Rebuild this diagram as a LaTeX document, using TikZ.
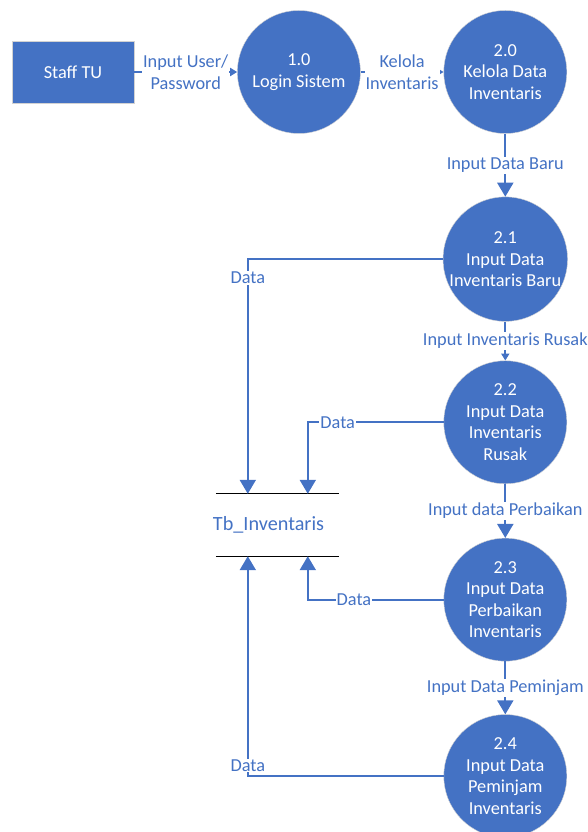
\documentclass[tikz,border=0pt]{standalone}
\usepackage{fontspec}
\setmainfont{Carlito}
\usepackage{xcolor}
\usepackage{tikz}
\usetikzlibrary{shapes.geometric, arrows.meta, positioning, calc}
\definecolor{dfdblue}{HTML}{4472C4}
\tikzstyle{entity} = [rectangle, minimum width=122pt, minimum height=62pt, text centered, draw=gray!35, fill=dfdblue, text=white]
\tikzstyle{process} = [circle, minimum size=123pt, inner sep=0pt, align=center, draw=gray!35, fill=dfdblue, text=white]
\tikzstyle{datastore} = [rectangle, minimum width=123pt, minimum height=62pt, inner sep=0pt]
\tikzstyle{flowtext} = [fill=white, text=dfdblue, align=center, inner sep=1pt]
\tikzstyle{line} = [draw=dfdblue, line width=2pt, -{Triangle[width=16pt,length=14pt]}]
\tikzstyle{thinline} = [draw=dfdblue, line width=2pt, -{Triangle[width=8pt,length=7pt]}]

\begin{document}
\begin{tikzpicture}[font=\fontsize{18.3pt}{21.5pt}\selectfont]
                  \useasboundingbox (0,0) rectangle (587pt,-832pt);
                  \node (staff) [entity] at (73pt,-72pt) {Staff TU};
                  \node (login) [process, right=103pt of staff] {1.0\\Login Sistem};
                  \node (kelola) [process, right=83pt of login] {2.0\\Kelola Data\\Inventaris};
                  \node (baru) [process, below=63pt of kelola] {2.1\\Input Data\\Inventaris Baru};
                  \node (rusak) [process, below=39pt of baru] {2.2\\Input Data\\Inventaris\\Rusak};
                  \node (perbaikan) [process, below=54pt of rusak] {2.3\\Input Data\\Perbaikan\\Inventaris};
                  \node (peminjam) [process, below=53pt of perbaikan] {2.4\\Input Data\\Peminjam\\Inventaris};

                  % data store
                  \node (store) [datastore] at (277.5pt,-525pt) {};
                  \node (storename) [text=dfdblue, font=\fontsize{20.2pt}{24pt}\selectfont] at ([xshift=-9pt]store.center) {Tb\_Inventaris};
                  \draw [black, line width=1pt] (store.north west) -- (store.north east);
                  \draw [black, line width=1pt] (store.south west) -- (store.south east);
                  \coordinate (storeinA) at ([xshift=32pt]store.north west);
                  \coordinate (storeinB) at ([xshift=92pt]store.north west);
                  \coordinate (storeoutA) at ([xshift=32pt]store.south west);
                  \coordinate (storeoutB) at ([xshift=92pt]store.south west);

                  \draw [thinline] (staff) -- node[flowtext] {Input User/\\Password} (login);
                  \draw [thinline] (login) -- node[flowtext] {Kelola\\Inventaris} (kelola);
                  \draw [line] (kelola) -- node[flowtext] {Input Data Baru} (baru);
                  \draw [thinline] (baru) -- node[flowtext] {Input Inventaris Rusak} (rusak);
                  \draw [line] (rusak) -- node[flowtext] {Input data Perbaikan} (perbaikan);
                  \draw [line] (perbaikan) -- node[flowtext] {Input Data Peminjam} (peminjam);

                  \draw [line] (baru.west) -| node[flowtext, pos=0.54] {Data} (storeinA);
                  \draw [line] (rusak.west) -| node[flowtext, pos=0.39] {Data} (storeinB);
                  \draw [line] (perbaikan.west) -| node[flowtext, pos=0.33] {Data} (storeoutB);
                  \draw [line] (peminjam.west) -| node[flowtext, pos=0.524] {Data} (storeoutA);
              \end{tikzpicture}
\end{document}
